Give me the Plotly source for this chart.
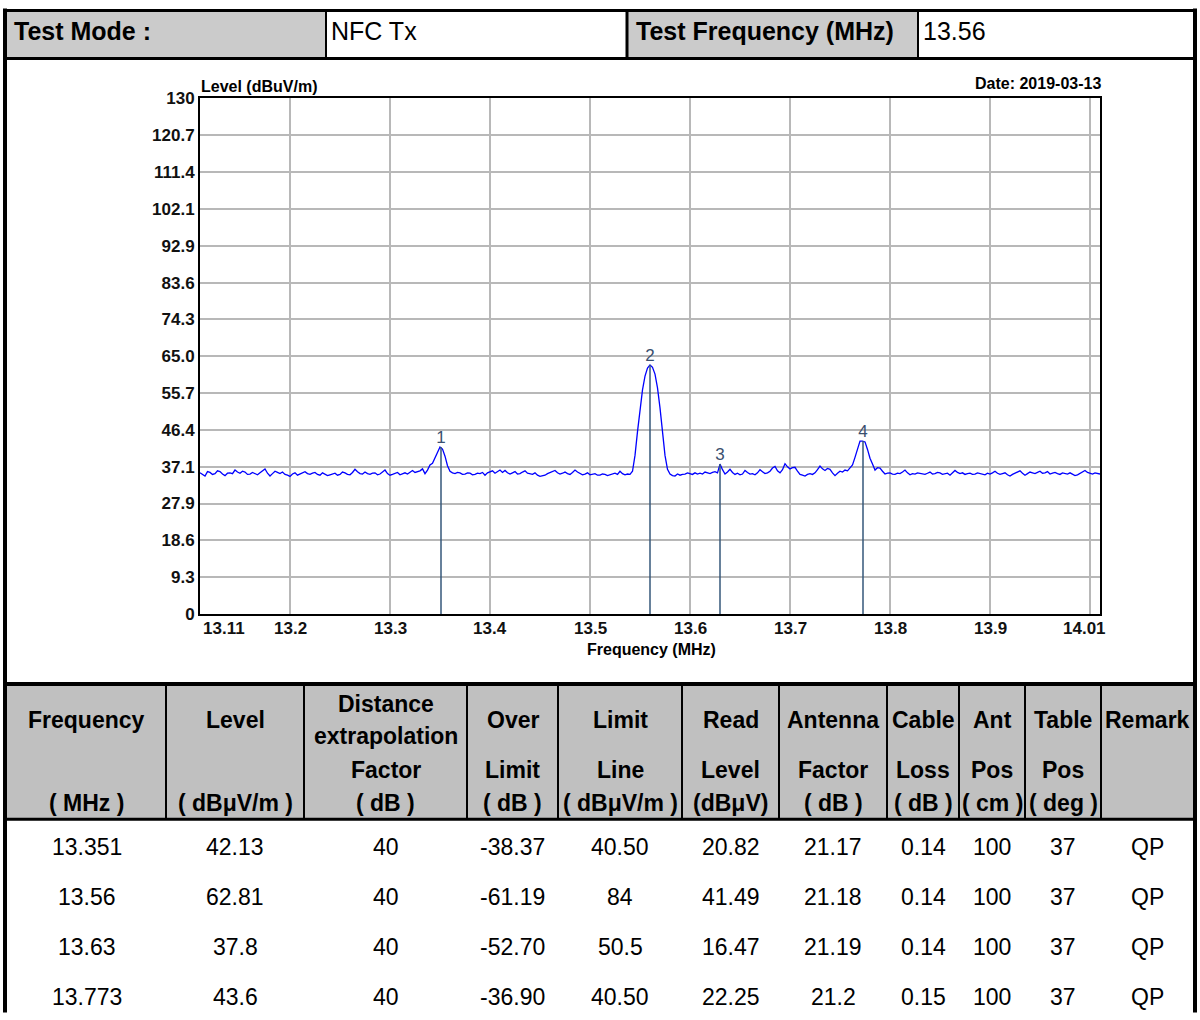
import plotly.graph_objects as go

W, H = 1200, 1020
FONT = "Liberation Sans, Arial, sans-serif"

# ---------------- spectrum sweep ----------------
F_START = 13.11
F_STEP = 0.0025
LEVEL = [
    35.6, 35.1, 34.8, 35.9, 35.7, 35.2, 35.4, 36.1, 35.9, 35.3, 34.9, 35.5, 35.6, 35.4, 36.3, 35.8, 35.5, 36.0, 35.8, 35.2,
    35.3, 35.7, 35.4, 35.1, 35.6, 36.0, 36.6, 35.5, 34.8, 35.4, 36.0, 35.7, 35.4, 35.8, 35.2, 35.0, 34.7, 35.3, 35.6, 35.0,
    35.3, 35.6, 35.9, 35.4, 35.2, 35.5, 35.7, 35.2, 35.0, 35.6, 35.3, 34.9, 35.1, 35.3, 35.5, 35.0, 35.2, 35.8, 35.6, 35.2,
    35.1, 35.7, 36.5, 35.9, 35.4, 35.3, 35.8, 35.4, 35.2, 35.5, 35.6, 35.1, 35.3, 35.8, 36.3, 35.4, 35.0, 35.2, 35.4, 35.7,
    35.1, 35.4, 35.6, 35.3, 35.8, 36.2, 35.7, 35.9, 36.1, 36.6, 35.4, 36.3, 37.6, 38.0, 39.5, 40.8, 42.1, 41.6, 39.8, 37.4,
    36.0, 35.6, 35.4, 35.7, 35.6, 35.2, 35.3, 35.6, 35.5, 35.1, 35.2, 35.5, 35.4, 35.7, 35.0, 35.6, 35.9, 36.1, 35.5, 35.8,
    36.3, 35.7, 36.2, 35.6, 35.3, 35.6, 35.9, 35.3, 35.4, 35.8, 36.1, 35.5, 35.3, 35.2, 35.6, 35.0, 34.7, 34.9, 35.0, 35.4,
    35.6, 35.9, 36.2, 35.6, 35.3, 35.5, 35.8, 35.4, 35.2, 35.7, 36.3, 35.8, 35.5, 35.1, 35.3, 35.6, 35.1, 35.3, 35.4, 35.0,
    35.0, 35.3, 35.2, 34.9, 35.1, 35.4, 35.5, 35.2, 36.0, 35.4, 35.1, 35.3, 35.2, 36.0, 40.0, 46.0, 52.0, 56.5, 60.0, 62.0,
    62.8, 62.2, 60.5, 57.0, 52.0, 46.0, 40.0, 36.5, 35.3, 34.9, 34.8, 35.3, 35.0, 35.2, 35.3, 35.6, 35.4, 35.2, 35.6, 35.3,
    35.5, 35.3, 35.8, 35.6, 35.4, 35.7, 35.9, 35.6, 37.8, 36.4, 35.3, 35.8, 36.5, 35.7, 35.2, 35.5, 35.1, 35.3, 36.2, 35.7,
    35.3, 35.4, 35.1, 35.6, 36.4, 35.9, 35.4, 35.6, 36.0, 36.8, 37.2, 36.1, 35.6, 36.4, 37.9, 37.1, 36.6, 36.9, 37.0, 36.0,
    35.2, 35.0, 34.8, 35.2, 35.4, 35.2, 35.6, 36.4, 37.3, 36.6, 36.2, 36.7, 36.5, 35.6, 34.9, 35.5, 36.0, 35.8, 36.3, 36.1,
    36.8, 37.6, 39.5, 41.8, 43.6, 43.6, 43.4, 41.5, 39.3, 37.8, 36.3, 36.9, 36.8, 36.0, 35.3, 35.5, 35.6, 35.3, 35.2, 35.5,
    35.4, 35.8, 36.3, 35.6, 35.1, 35.4, 35.3, 35.6, 35.5, 35.3, 35.2, 35.5, 35.8, 35.3, 35.4, 35.7, 35.6, 35.2, 35.3, 35.5,
    35.0, 35.6, 36.2, 35.7, 35.4, 35.6, 35.2, 35.4, 35.5, 35.2, 35.3, 35.6, 35.4, 35.3, 35.1, 35.5, 35.3, 35.6, 36.0, 35.5,
    35.2, 35.4, 35.6, 35.1, 34.8, 35.2, 35.5, 35.8, 36.1, 35.5, 35.0, 35.4, 35.8, 35.6, 35.4, 35.7, 36.0, 35.5, 35.6, 35.9,
    35.3, 35.5, 35.7, 35.4, 35.2, 35.6, 35.5, 35.3, 35.6, 35.2, 34.9, 35.1, 35.4, 35.8, 36.2, 35.7, 35.4, 35.3, 35.6, 35.4,
    35.3,
]
FREQ = [round(F_START + F_STEP * i, 4) for i in range(len(LEVEL))]

# axes
Y_MAX = 130
Y_TICK_TEXT = ["0", "9.3", "18.6", "27.9", "37.1", "46.4", "55.7", "65.0",
               "74.3", "83.6", "92.9", "102.1", "111.4", "120.7", "130"]
X_GRID = [13.2, 13.3, 13.4, 13.5, 13.6, 13.7, 13.8, 13.9, 14.0]
X_TICK_VALS = [13.11, 13.2, 13.3, 13.4, 13.5, 13.6, 13.7, 13.8, 13.9, 14.01]
X_TICK_TEXT = ["13.11", "13.2", "13.3", "13.4", "13.5", "13.6", "13.7",
               "13.8", "13.9", "14.01"]

# ---------------- result table ----------------
MARKER_ID = ["1", "2", "3", "4"]
T_FREQ = ["13.351", "13.56", "13.63", "13.773"]
T_LEVEL = ["42.13", "62.81", "37.8", "43.6"]
T_DIST = ["40", "40", "40", "40"]
T_OVER = ["-38.37", "-61.19", "-52.70", "-36.90"]
T_LIMIT = ["40.50", "84", "50.5", "40.50"]
T_READ = ["20.82", "41.49", "16.47", "22.25"]
T_ANTF = ["21.17", "21.18", "21.19", "21.2"]
T_CABLE = ["0.14", "0.14", "0.14", "0.15"]
T_ANTPOS = ["100", "100", "100", "100"]
T_TABLEPOS = ["37", "37", "37", "37"]
T_REMARK = ["QP", "QP", "QP", "QP"]

HEAD_L1 = ["Frequency", "Level", "extrapolation", "Over", "Limit", "Read",
           "Antenna", "Cable", "Ant", "Table", "Remark"]
HEAD_L2 = ["", "", "Factor", "Limit", "Line", "Level", "Factor", "Loss",
           "Pos", "Pos", ""]
HEAD_UNITS = ["( MHz )", "( dBμV/m )", "( dB )", "( dB )", "( dBμV/m )",
              "(dBμV)", "( dB )", "( dB )", "( cm )", "( deg )", ""]

# layout geometry (pixels of the target picture)
COL_EDGES = [7, 166, 304, 467, 558, 682, 779, 887, 959, 1025, 1101, 1193]
ROW_Y = [847, 897, 947, 997]

# measured mapping of the page as photographed
Y_TOP = 9.6
Y_SPAN = 1000.0


def fx(x):
    return x / W


def fy(y):
    return 1 - (y - Y_TOP) / Y_SPAN


def ann(text, x, y, size, bold=False, xanchor="center", color="black"):
    return dict(text=text, x=fx(x), y=fy(y), xref="paper", yref="paper",
                xanchor=xanchor, yanchor="middle", showarrow=False,
                font=dict(family=FONT, size=size, color=color,
                          weight="bold" if bold else "normal"))


def hline(y, x0, x1, w):
    return dict(type="line", xref="paper", yref="paper", x0=fx(x0), x1=fx(x1),
                y0=fy(y), y1=fy(y), line=dict(color="black", width=w))


def vline(x, y0, y1, w):
    return dict(type="line", xref="paper", yref="paper", x0=fx(x), x1=fx(x),
                y0=fy(y0), y1=fy(y1), line=dict(color="black", width=w))


def rect(x0, y0, x1, y1, color):
    return dict(type="rect", xref="paper", yref="paper", x0=fx(x0), x1=fx(x1),
                y0=fy(y0), y1=fy(y1), fillcolor=color, line=dict(width=0),
                layer="below")


fig = go.Figure()

# spectrum trace
fig.add_trace(go.Scatter(x=FREQ, y=LEVEL, mode="lines",
                         line=dict(color="#0000ff", width=1.3),
                         hoverinfo="skip", showlegend=False))

# marker lines
m_f = [float(v) for v in T_FREQ]
m_l = [float(v) for v in T_LEVEL]
mx, my = [], []
for f, l in zip(m_f, m_l):
    mx += [f, f, None]
    my += [l, 0, None]
fig.add_trace(go.Scatter(x=mx, y=my, mode="lines",
                         line=dict(color="#34577a", width=1.5),
                         hoverinfo="skip", showlegend=False))
fig.add_trace(go.Scatter(x=m_f, y=m_l, mode="text", text=MARKER_ID,
                         textposition="top center",
                         textfont=dict(family=FONT, size=17, color="#3a4f6e"),
                         hoverinfo="skip", showlegend=False))

shapes = []
annotations = []

# gray fills
shapes.append(rect(7, 11, 326, 58, "#cbcbcb"))
shapes.append(rect(628, 11, 917, 58, "#cbcbcb"))
shapes.append(rect(7, 686, 1193, 818, "#c0c0c0"))

# frame lines
shapes.append(hline(11, 3, 1197, 3))
shapes.append(vline(5, 9, 1012, 4))
shapes.append(vline(1195, 9, 1012, 4))
shapes.append(hline(59, 3, 1197, 3))
shapes.append(vline(326, 10, 59, 2))
shapes.append(vline(627, 10, 59, 3))
shapes.append(vline(918, 10, 59, 2))
shapes.append(hline(684, 3, 1197, 4))
shapes.append(hline(819, 3, 1197, 3))
for xe in COL_EDGES[1:-1]:
    shapes.append(vline(xe, 684, 819, 2))

# header row text
annotations.append(ann("Test Mode :", 12, 32, 25, bold=True, xanchor="left"))
annotations.append(ann("NFC Tx", 329, 32, 25, xanchor="left"))
annotations.append(ann("Test Frequency (MHz)", 634, 32, 25, bold=True, xanchor="left"))
annotations.append(ann("13.56", 921, 32, 25, xanchor="left"))

# chart texts
annotations.append(ann("Level (dBuV/m)", 199, 87, 16, bold=True, xanchor="left"))
annotations.append(ann("Date: 2019-03-13", 1103, 84, 16, bold=True, xanchor="right"))
annotations.append(ann("Frequency (MHz)", 651, 649, 16, bold=True))
for v, t in zip(X_TICK_VALS, X_TICK_TEXT):
    if t == X_TICK_TEXT[0]:
        xa, xs = "left", 1
    elif t == X_TICK_TEXT[-1]:
        xa, xs = "right", 8
    else:
        xa, xs = "center", 0
    annotations.append(dict(text=t, x=v, y=fy(628), xref="x", yref="paper",
                            xanchor=xa, yanchor="middle", xshift=xs,
                            showarrow=False,
                            font=dict(family=FONT, size=17, color="#111111",
                                      weight="bold")))

# table header text
centers = [(COL_EDGES[i] + COL_EDGES[i + 1]) / 2 for i in range(len(COL_EDGES) - 1)]
for i, c in enumerate(centers):
    if HEAD_L1[i] == "extrapolation":
        annotations.append(ann("Distance", c, 704, 23, bold=True))
        annotations.append(ann("extrapolation", c, 736, 23, bold=True))
    else:
        annotations.append(ann(HEAD_L1[i], c, 720, 23, bold=True))
    if HEAD_L2[i]:
        annotations.append(ann(HEAD_L2[i], c, 770, 23, bold=True))
    if HEAD_UNITS[i]:
        annotations.append(ann(HEAD_UNITS[i], c, 803, 23, bold=True))

# table body
cols = [T_FREQ, T_LEVEL, T_DIST, T_OVER, T_LIMIT, T_READ, T_ANTF, T_CABLE,
        T_ANTPOS, T_TABLEPOS, T_REMARK]
for ci, col in enumerate(cols):
    for ri, val in enumerate(col):
        annotations.append(ann(val, centers[ci], ROW_Y[ri], 23))

fig.update_layout(
    width=W, height=H, autosize=False,
    margin=dict(l=0, r=0, t=0, b=0),
    paper_bgcolor="white", plot_bgcolor="white",
    shapes=shapes, annotations=annotations,
    xaxis=dict(domain=[fx(200), fx(1100)], range=[13.11, 14.01],
               tickvals=X_GRID, showticklabels=False, ticks="",
               showgrid=True, gridcolor="#b8b8b8", gridwidth=2,
               showline=True, mirror=True, linecolor="black", linewidth=2,
               zeroline=False, fixedrange=True),
    yaxis=dict(domain=[fy(614), fy(99)], range=[0, Y_MAX],
               tickvals=[i * Y_MAX / 14 for i in range(15)],
               ticktext=Y_TICK_TEXT, ticks="",
               tickfont=dict(family=FONT, size=17, color="#111111", weight="bold"),
               showgrid=True, gridcolor="#b8b8b8", gridwidth=2,
               showline=True, mirror=True, linecolor="black", linewidth=2,
               zeroline=False, fixedrange=True),
    showlegend=False,
)

fig.write_html("out.html", config={"displayModeBar": False},
               post_script="document.body.style.margin='0px';")
